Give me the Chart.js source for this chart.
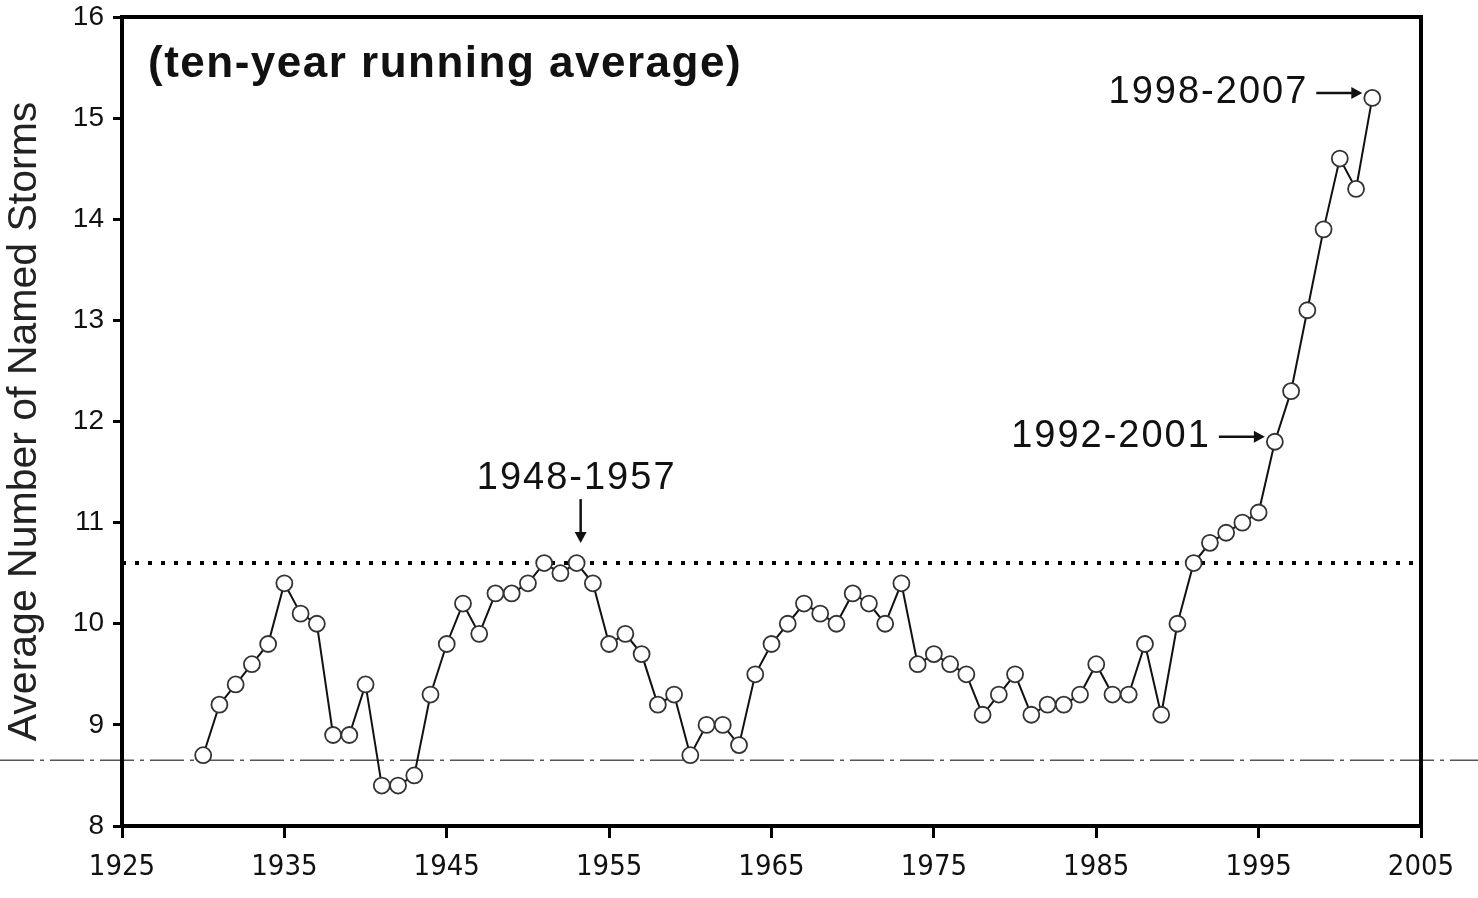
<!DOCTYPE html>
<html>
<head>
<meta charset="utf-8">
<script src="https://cdn.jsdelivr.net/npm/chart.js@4/dist/chart.umd.min.js"></script>
<style>
  html, body { margin: 0; padding: 0; background: #fff; }
  #wrap { width: 1478px; height: 898px; position: relative; }
</style>
</head>
<body>
<div id="wrap"><canvas id="storms"></canvas></div>
<script>
// ten-year running average of named storms
const years = [
  1930, 1931, 1932, 1933, 1934, 1935, 1936, 1937, 1938, 1939,
  1940, 1941, 1942, 1943, 1944, 1945, 1946, 1947, 1948, 1949,
  1950, 1951, 1952, 1953, 1954, 1955, 1956, 1957, 1958, 1959,
  1960, 1961, 1962, 1963, 1964, 1965, 1966, 1967, 1968, 1969,
  1970, 1971, 1972, 1973, 1974, 1975, 1976, 1977, 1978, 1979,
  1980, 1981, 1982, 1983, 1984, 1985, 1986, 1987, 1988, 1989,
  1990, 1991, 1992, 1993, 1994, 1995, 1996, 1997, 1998, 1999,
  2000, 2001, 2002
];
const avgStorms = [
  8.7, 9.2, 9.4, 9.6, 9.8, 10.4, 10.1, 10.0, 8.9, 8.9,
  9.4, 8.4, 8.4, 8.5, 9.3, 9.8, 10.2, 9.9, 10.3, 10.3,
  10.4, 10.6, 10.5, 10.6, 10.4, 9.8, 9.9, 9.7, 9.2, 9.3,
  8.7, 9.0, 9.0, 8.8, 9.5, 9.8, 10.0, 10.2, 10.1, 10.0,
  10.3, 10.2, 10.0, 10.4, 9.6, 9.7, 9.6, 9.5, 9.1, 9.3,
  9.5, 9.1, 9.2, 9.2, 9.3, 9.6, 9.3, 9.3, 9.8, 9.1,
  10.0, 10.6, 10.8, 10.9, 11.0, 11.1, 11.8, 12.3, 13.1, 13.9,
  14.6, 14.3, 15.2
];
const refYears = [1925, 2005];   // dotted reference level spans the plot
const refLevel = 10.6;
const scanLineLevel = 8.65;      // faint dashed line across the scan
const xTicks = [1925, 1935, 1945, 1955, 1965, 1975, 1985, 1995, 2005];
const yTicks = [8, 9, 10, 11, 12, 13, 14, 15, 16];
const callouts = [
  { text: '1948-1957', year: 1953, value: 10.6, dir: 'down' },
  { text: '1992-2001', year: 1996, value: 11.8, dir: 'right' },
  { text: '1998-2007', year: 2002, value: 15.2, dir: 'right' },
];
const subtitle = '(ten-year running average)';

const FONT = "'Liberation Sans', Arial, sans-serif";

function arrowHead(ctx, x, y, dx, dy) {
  const len = 11, half = 6;
  ctx.beginPath();
  ctx.moveTo(x, y);
  ctx.lineTo(x - dx * len - dy * half, y - dy * len + dx * half);
  ctx.lineTo(x - dx * len + dy * half, y - dy * len - dx * half);
  ctx.closePath();
  ctx.fill();
}

const scanLine = {
  id: 'scanLine',
  beforeDatasetsDraw(chart) {
    const { ctx, width } = chart;
    const y = chart.scales.y.getPixelForValue(scanLineLevel);
    ctx.save();
    ctx.strokeStyle = '#555';
    ctx.lineWidth = 1.3;
    ctx.setLineDash([34, 6, 4, 6]);
    ctx.beginPath();
    ctx.moveTo(0, y);
    ctx.lineTo(width, y);
    ctx.stroke();
    ctx.restore();
  }
};

const frame = {
  id: 'frame',
  afterDatasetsDraw(chart) {
    const { ctx, chartArea: a } = chart;
    ctx.save();
    ctx.strokeStyle = '#000';
    ctx.lineWidth = 4;
    ctx.strokeRect(a.left, a.top, a.right - a.left, a.bottom - a.top);
    ctx.restore();
  }
};

const notes = {
  id: 'notes',
  afterDatasetsDraw(chart) {
    const { ctx, chartArea: a, scales: { x, y } } = chart;
    ctx.save();
    ctx.fillStyle = '#111';
    ctx.strokeStyle = '#111';

    ctx.font = `bold 44px ${FONT}`;
    ctx.letterSpacing = '1.5px';
    ctx.textAlign = 'left';
    ctx.textBaseline = 'middle';
    ctx.fillText(subtitle, a.left + 26, a.top + 48);

    ctx.font = `38px ${FONT}`;
    ctx.letterSpacing = '2px';
    ctx.lineWidth = 2.5;
    callouts.forEach(c => {
      const px = x.getPixelForValue(c.year);
      const py = y.getPixelForValue(c.value);
      if (c.dir === 'down') {
        ctx.textAlign = 'center';
        ctx.fillText(c.text, px, py - 85);
        ctx.beginPath();
        ctx.moveTo(px + 4, py - 64);
        ctx.lineTo(px + 4, py - 30);
        ctx.stroke();
        arrowHead(ctx, px + 4, py - 20, 0, 1);
      } else {
        const ay = py - 5;
        ctx.textAlign = 'right';
        ctx.fillText(c.text, px - 64, ay);
        ctx.beginPath();
        ctx.moveTo(px - 56, ay);
        ctx.lineTo(px - 20, ay);
        ctx.stroke();
        arrowHead(ctx, px - 10, ay, 1, 0);
      }
    });
    ctx.restore();
  }
};

new Chart(document.getElementById('storms'), {
  type: 'line',
  data: {
    datasets: [
      {
        label: 'Average Number of Named Storms',
        data: years.map((yr, i) => ({ x: yr, y: avgStorms[i] })),
        borderColor: '#111',
        borderWidth: 2,
        tension: 0,
        pointRadius: 8,
        pointBorderWidth: 1.8,
        pointBorderColor: '#333',
        pointBackgroundColor: '#fff',
        order: 1,
      },
      {
        label: 'reference',
        data: refYears.map(yr => ({ x: yr, y: refLevel })),
        borderColor: '#000',
        borderWidth: 4,
        borderDash: [4, 9],
        pointRadius: 0,
        order: 2,
      }
    ]
  },
  options: {
    responsive: true,
    maintainAspectRatio: false,
    animation: false,
    devicePixelRatio: 1,
    layout: { padding: { top: 17, right: 57, left: 0, bottom: 0 } },
    plugins: { legend: { display: false }, tooltip: { enabled: false } },
    scales: {
      x: {
        type: 'linear',
        min: xTicks[0],
        max: xTicks[xTicks.length - 1],
        afterBuildTicks: s => { s.ticks = xTicks.map(v => ({ value: v })); },
        afterFit: s => { s.height = 72; s.paddingLeft = 0; s.paddingRight = 0; },
        border: { display: false },
        grid: { drawOnChartArea: false, drawTicks: true, tickLength: 12, tickWidth: 3, color: '#000' },
        ticks: {
          color: '#111',
          padding: 12,
          maxRotation: 0,
          font: { family: "'Liberation Sans Narrow', 'DejaVu Sans Condensed', 'Liberation Sans', Arial, sans-serif", size: 29 },
          callback: v => String(v),
        }
      },
      y: {
        min: yTicks[0],
        max: yTicks[yTicks.length - 1],
        afterBuildTicks: s => { s.ticks = yTicks.map(v => ({ value: v })); },
        afterFit: s => { s.width = 122; s.paddingTop = 0; s.paddingBottom = 0; },
        border: { display: false },
        grid: { drawOnChartArea: false, drawTicks: true, tickLength: 9, tickWidth: 3, color: '#000' },
        title: {
          display: true,
          text: 'Average Number of Named Storms',
          color: '#222',
          padding: 0,
          font: { family: FONT, size: 41 },
        },
        ticks: {
          color: '#111',
          padding: 9,
          font: { family: FONT, size: 28 },
          callback: v => String(v),
        }
      }
    }
  },
  plugins: [scanLine, frame, notes]
});
</script>
</body>
</html>
